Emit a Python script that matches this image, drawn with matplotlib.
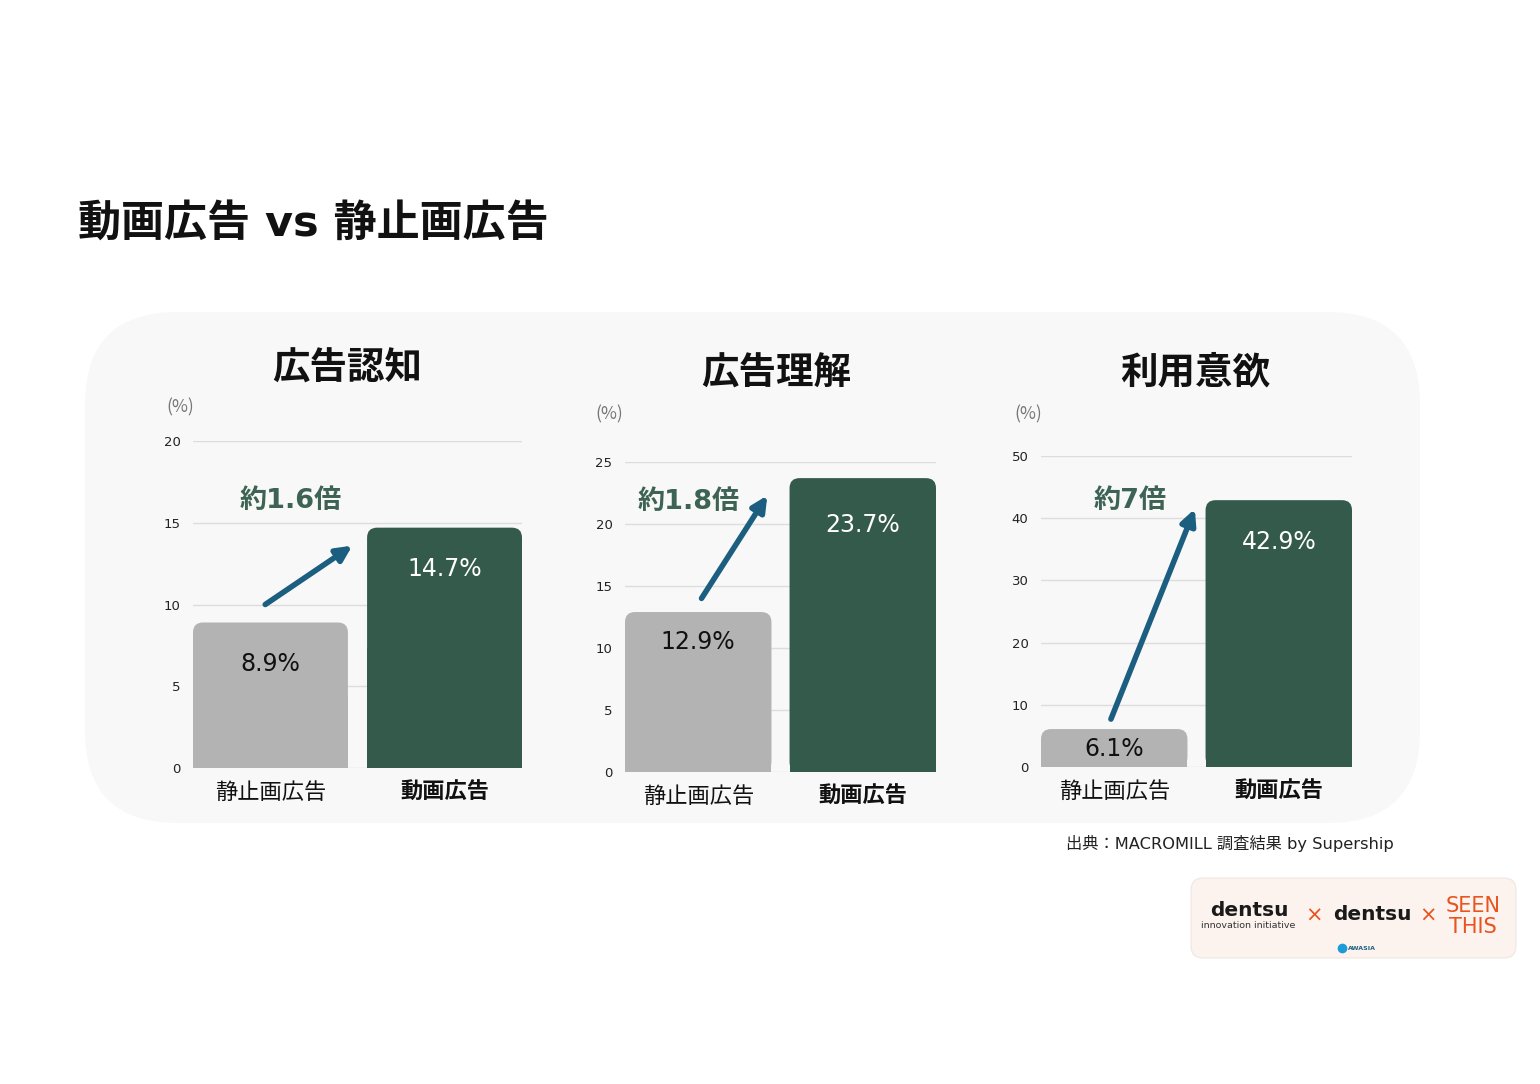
import matplotlib
matplotlib.use("Agg")
import matplotlib.pyplot as plt
from matplotlib.patches import FancyBboxPatch, Rectangle
from matplotlib.lines import Line2D

plt.rcParams['font.family'] = ['Noto Sans CJK JP', 'DejaVu Sans']
LATIN = ['DejaVu Sans', 'Noto Sans CJK JP']

# ---- data ----
main_title = "動画広告 vs 静止画広告"
panel_titles = ["広告認知", "広告理解", "利用意欲"]
categories = ["静止画広告", "動画広告"]
recognition = [8.9, 14.7]
understanding = [12.9, 23.7]
intent = [6.1, 42.9]
multipliers = ["約1.6倍", "約1.8倍", "約7倍"]
y_max = [20, 25, 50]
y_step = [5, 5, 10]
source_note = "出典：MACROMILL 調査結果 by Supership"

values = [recognition, understanding, intent]

# ---- layout (pixels of a 1540x1084 canvas) ----
W, H = 1540, 1084
GRAY = "#B3B3B3"
GREEN = "#345A4C"
ARROW = "#1B5E80"
ANNOT = "#3D6354"

# axes boxes: left, right, top(pixel of max), bottom(pixel of 0)
boxes = [(193, 522, 441, 768), (625, 936, 462, 772), (1041, 1352, 456, 767)]
title_pos = [(347, 368), (776, 373), (1195, 372)]
pct_pos = [(180, 407), (609, 414), (1028, 414)]
# arrow start/end in data units, multiplier label position in data units
arrows = [((-0.03, 10.0), (0.47, 13.6)),
          ((0.02, 14.0), (0.42, 22.3)),
          ((-0.02, 7.7), (0.49, 41.5))]
mult_pos = [(0.115, 16.3), (-0.06, 21.8), (0.095, 42.8)]
label_drop = [[42, 41], [30, 47], [20, 42]]  # px below the bar top

fig = plt.figure(figsize=(W / 100, H / 100), dpi=100)
fig.patch.set_facecolor("white")


def fx(x):
    return x / W


def fy(y):
    return 1 - y / H


# light rounded background panel
bg = FancyBboxPatch((fx(85), fy(823)), fx(1420) - fx(85), fy(312) - fy(823),
                    boxstyle="round,pad=0,rounding_size=0.06",
                    mutation_aspect=W / H,
                    transform=fig.transFigure, facecolor="#F8F8F8",
                    edgecolor="none", zorder=-2)
fig.patches.append(bg)

fig.text(fx(78), fy(224), main_title, fontsize=31, fontweight="bold",
         family=LATIN, ha="left", va="center", color="#111111")

bar_w = 0.89
for i in range(3):
    l, r, t, b = boxes[i]
    ax = fig.add_axes([fx(l), fy(b), fx(r) - fx(l), fy(t) - fy(b)])
    ax.set_facecolor("none")
    ax.set_xlim(-bar_w / 2, 1 + bar_w / 2)
    ax.set_ylim(0, y_max[i])
    ticks = list(range(0, y_max[i] + 1, y_step[i]))
    ax.set_yticks(ticks)
    ax.set_yticklabels([str(v) for v in ticks], fontsize=9.5, color="#222222",
                       family=LATIN)
    ax.tick_params(axis="y", length=0, pad=9)
    ax.tick_params(axis="x", length=0, pad=9.5)
    for s in ax.spines.values():
        s.set_visible(False)
    ax.grid(axis="y", color="#DDDDDD", lw=1)
    ax.set_axisbelow(True)

    ax.set_xticks([0, 1])
    ax.set_xticklabels(categories, fontsize=16, color="#111111")
    ax.get_xticklabels()[1].set_fontweight("bold")

    # pixel -> data scales
    xpp = (1 + bar_w) / (r - l)
    ypp = y_max[i] / (b - t)
    rad = 10 * xpp
    colors = [GRAY, GREEN]
    for j, v in enumerate(values[i]):
        x0 = j - bar_w / 2
        ax.add_patch(FancyBboxPatch((x0, 0), bar_w, v,
                                    boxstyle=f"round,pad=0,rounding_size={rad}",
                                    mutation_aspect=ypp / xpp,
                                    facecolor=colors[j], edgecolor="none", zorder=2))
        ax.add_patch(Rectangle((x0, 0), bar_w, v / 2, facecolor=colors[j],
                               edgecolor="none", lw=0, zorder=2))
        ax.annotate(f"{v}%", (j, v), xytext=(0, -label_drop[i][j] * 0.72),
                    textcoords="offset points", ha="center", va="center",
                    fontsize=17, family=LATIN,
                    color="#111111" if j == 0 else "white", zorder=4)

    (x1, y1), (x2, y2) = arrows[i]
    ax.annotate("", xy=(x2, y2), xytext=(x1, y1),
                arrowprops=dict(arrowstyle="-|>,head_length=0.65,head_width=0.32",
                                lw=4, color=ARROW, mutation_scale=14,
                                shrinkA=0, shrinkB=0), zorder=5)
    ax.text(mult_pos[i][0], mult_pos[i][1], multipliers[i], fontsize=19.5,
            fontweight="bold", family=LATIN, color=ANNOT, ha="center",
            va="center", zorder=5)

    fig.text(fx(title_pos[i][0]), fy(title_pos[i][1]), panel_titles[i],
             fontsize=27, fontweight="bold", ha="center", va="center",
             color="#111111")
    fig.text(fx(pct_pos[i][0]), fy(pct_pos[i][1]), "(%)", fontsize=12.5,
             ha="center", va="center", color="#777777")

fig.text(fx(1394), fy(844), source_note, fontsize=11.7, ha="right",
         family=LATIN, va="center", color="#222222")

# logo box
logo = FancyBboxPatch((fx(1191), fy(958)), fx(1516) - fx(1191), fy(878) - fy(958),
                      boxstyle="round,pad=0,rounding_size=0.008",
                      mutation_aspect=W / H, transform=fig.transFigure,
                      facecolor="#FCF3EF", edgecolor="#EEE6E2", lw=0.8, zorder=1)
fig.patches.append(logo)
ORANGE = "#E8531E"
fig.text(fx(1249), fy(910), "dentsu", fontsize=14.5, fontweight="bold",
         family="DejaVu Sans", ha="center", va="center", color="#1A1A1A")
fig.text(fx(1248), fy(926), "innovation initiative", fontsize=6.8,
         family="DejaVu Sans", ha="center", va="center", color="#333333")
fig.text(fx(1314), fy(916), "×", fontsize=15, ha="center", va="center",
         color=ORANGE, family="DejaVu Sans")
fig.text(fx(1372), fy(915), "dentsu", fontsize=14.5, fontweight="bold",
         family="DejaVu Sans", ha="center", va="center", color="#1A1A1A")
fig.text(fx(1428), fy(916), "×", fontsize=15, ha="center", va="center",
         color=ORANGE, family="DejaVu Sans")
fig.text(fx(1473), fy(906), "SEEN", fontsize=15, ha="center", va="center",
         color=ORANGE, family="DejaVu Sans")
fig.text(fx(1473), fy(927), "THIS", fontsize=15, ha="center", va="center",
         color=ORANGE, family="DejaVu Sans")
fig.lines.append(Line2D([fx(1342)], [fy(948)], transform=fig.transFigure,
                        marker="o", markersize=7, markerfacecolor="#1D9BD7",
                        markeredgecolor="none", linestyle="none"))
fig.text(fx(1362), fy(948), "AWASIA", fontsize=4.5, fontweight="bold",
         ha="center", va="center", color="#1B5E80", family="DejaVu Sans")

fig.savefig("out.png", dpi=100)
